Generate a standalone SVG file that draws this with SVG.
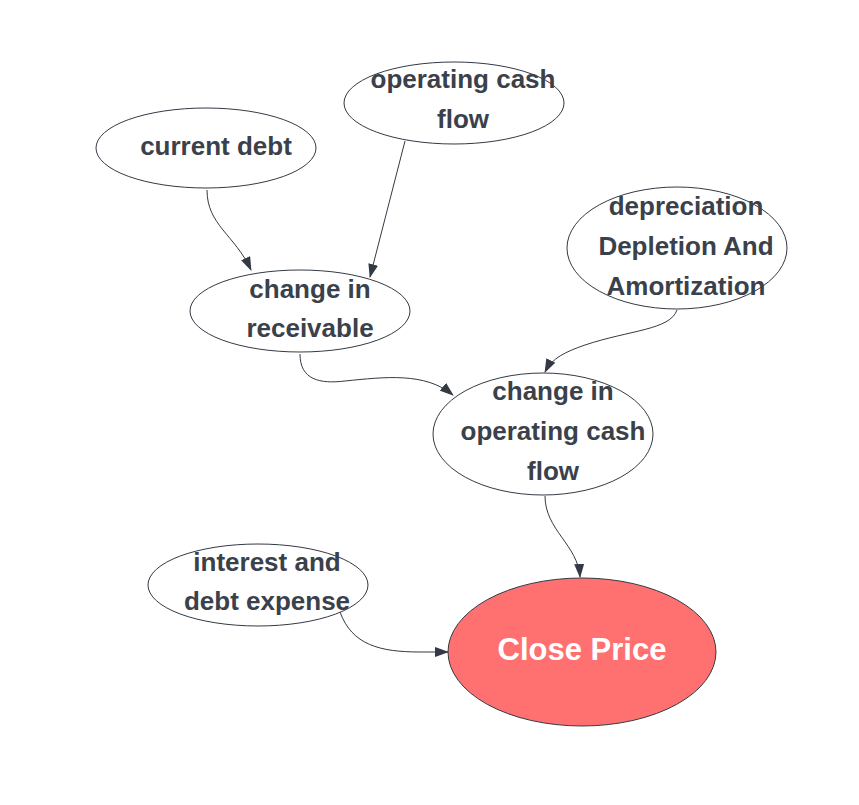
<svg xmlns="http://www.w3.org/2000/svg" width="859" height="805" viewBox="0 0 859 805">
<style>
.node{fill:#fff;stroke:#333a44;stroke-width:1}
.lbl{font-family:"Liberation Sans",Arial,sans-serif;font-weight:bold;font-size:26px;fill:#3a414a;text-anchor:middle}
.big{font-family:"Liberation Sans",Arial,sans-serif;font-weight:bold;font-size:31px;fill:#fff;text-anchor:middle}
.edge{fill:none;stroke:#333a44;stroke-width:1;marker-end:url(#arr)}
</style>
<defs>
<marker id="arr" viewBox="0 0 14 10" refX="13" refY="5" markerWidth="14" markerHeight="10" markerUnits="userSpaceOnUse" orient="auto">
<path d="M0,0 L14,5 L0,10 Z" fill="#333a44"/>
</marker>
</defs>
<rect width="859" height="805" fill="#fff"/>
<g id="connectors">
<path class="edge" d="M207,190 C207,225 235,235 251,270"/>
<path class="edge" d="M405,141 L370,277"/>
<path class="edge" d="M300,354 C300,380 320,384 345,381 C385,377 425,372 453,395"/>
<path class="edge" d="M677,310 C670,330 630,330 585,345 C565,352 552,358 545,372"/>
<path class="edge" d="M545,496 C545,530 578,545 580,577"/>
<path class="edge" d="M340,612 C352,645 380,652 420,652 L448,652"/>
</g>
<g id="current-debt">
<ellipse class="node" cx="206" cy="148" rx="110" ry="40"/>
<text class="lbl" x="216" y="155">current debt</text>
</g>
<g id="operating-cash-flow">
<ellipse class="node" cx="454" cy="103" rx="110" ry="41"/>
<text class="lbl" x="463" y="88">operating cash</text>
<text class="lbl" x="463" y="128">flow</text>
</g>
<g id="change-in-receivable">
<ellipse class="node" cx="300" cy="311" rx="110" ry="41"/>
<text class="lbl" x="310" y="298">change in</text>
<text class="lbl" x="310" y="337">receivable</text>
</g>
<g id="depreciation">
<ellipse class="node" cx="677" cy="248" rx="110" ry="61"/>
<text class="lbl" x="686" y="215">depreciation</text>
<text class="lbl" x="686" y="255">Depletion And</text>
<text class="lbl" x="686" y="295">Amortization</text>
</g>
<g id="change-in-ocf">
<ellipse class="node" cx="543" cy="434" rx="110" ry="61"/>
<text class="lbl" x="553" y="400">change in</text>
<text class="lbl" x="553" y="440">operating cash</text>
<text class="lbl" x="553" y="480">flow</text>
</g>
<g id="interest-debt-expense">
<ellipse class="node" cx="258" cy="585" rx="110" ry="41"/>
<text class="lbl" x="267" y="571">interest and</text>
<text class="lbl" x="267" y="610">debt expense</text>
</g>
<g id="close-price">
<ellipse cx="582" cy="652" rx="134" ry="74" fill="#ff7070" stroke="#333a44" stroke-width="1"/>
<text class="big" x="582" y="660">Close Price</text>
</g>
</svg>
